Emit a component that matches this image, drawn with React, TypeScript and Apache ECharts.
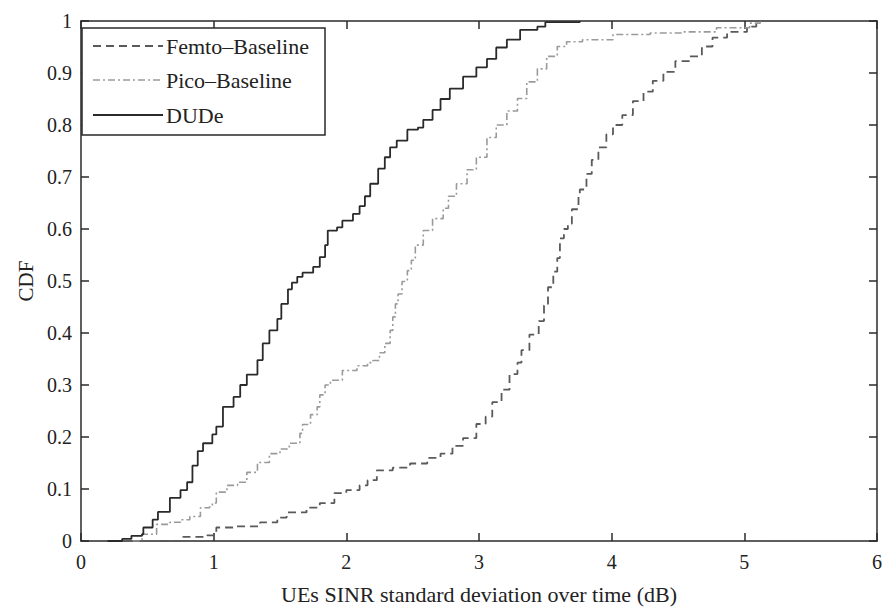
import React, { useEffect, useRef } from "react";
import * as echarts from "echarts";

const seriesNames = ["Femto–Baseline", "Pico–Baseline", "DUDe"];

const femtoData: [number, number][] = [
  [0.6, 0], [0.77, 0.008], [0.95, 0.011], [1.02, 0.026], [1.15, 0.028], [1.35, 0.036],
  [1.48, 0.045], [1.55, 0.055], [1.7, 0.064], [1.8, 0.073], [1.91, 0.092], [2.0, 0.098],
  [2.1, 0.107], [2.16, 0.117], [2.23, 0.136], [2.35, 0.141], [2.48, 0.149], [2.61, 0.16],
  [2.71, 0.168], [2.8, 0.183], [2.88, 0.198], [2.98, 0.225], [3.05, 0.239], [3.1, 0.267],
  [3.17, 0.291], [3.23, 0.321], [3.29, 0.343], [3.32, 0.367], [3.38, 0.397], [3.45, 0.423],
  [3.49, 0.453], [3.52, 0.488], [3.56, 0.518], [3.59, 0.544], [3.61, 0.582], [3.64, 0.6],
  [3.67, 0.61], [3.7, 0.638], [3.75, 0.663], [3.76, 0.676], [3.81, 0.706], [3.85, 0.733],
  [3.9, 0.757], [3.96, 0.782], [4.01, 0.8], [4.08, 0.819], [4.16, 0.846], [4.24, 0.864],
  [4.31, 0.885], [4.39, 0.902], [4.48, 0.923], [4.59, 0.932], [4.68, 0.951], [4.76, 0.968],
  [4.87, 0.979], [5.02, 0.989], [5.09, 1.0],
];

const picoData: [number, number][] = [
  [0.39, 0], [0.46, 0.013], [0.57, 0.032], [0.67, 0.036], [0.75, 0.041], [0.82, 0.047],
  [0.9, 0.064], [0.97, 0.066], [0.99, 0.073], [1.02, 0.094], [1.1, 0.107], [1.18, 0.113],
  [1.25, 0.132], [1.33, 0.151], [1.42, 0.168], [1.5, 0.177], [1.57, 0.188], [1.65, 0.207],
  [1.67, 0.224], [1.73, 0.243], [1.78, 0.258], [1.8, 0.281], [1.84, 0.3], [1.88, 0.309],
  [1.97, 0.328], [2.08, 0.337], [2.16, 0.343], [2.2, 0.347], [2.25, 0.362], [2.29, 0.38],
  [2.33, 0.405], [2.35, 0.431], [2.37, 0.456], [2.39, 0.475], [2.42, 0.499], [2.46, 0.52],
  [2.49, 0.54], [2.52, 0.569], [2.58, 0.597], [2.65, 0.62], [2.73, 0.64], [2.77, 0.663],
  [2.83, 0.687], [2.91, 0.714], [2.98, 0.738], [3.06, 0.776], [3.13, 0.8], [3.21, 0.827],
  [3.29, 0.851], [3.36, 0.883], [3.44, 0.908], [3.51, 0.932], [3.59, 0.951], [3.66, 0.96],
  [3.78, 0.964], [4.01, 0.974], [4.29, 0.977], [4.54, 0.979], [4.79, 0.987], [5.04, 0.996],
  [5.12, 1.0],
];

const dudeData: [number, number][] = [
  [0.2, 0], [0.31, 0.004], [0.38, 0.01], [0.46, 0.013], [0.47, 0.026], [0.54, 0.041],
  [0.58, 0.056], [0.67, 0.083], [0.75, 0.098], [0.8, 0.113], [0.84, 0.145], [0.88, 0.173],
  [0.92, 0.188], [0.99, 0.205], [1.02, 0.22], [1.07, 0.258], [1.15, 0.277], [1.2, 0.3],
  [1.25, 0.32], [1.33, 0.348], [1.37, 0.38], [1.42, 0.405], [1.48, 0.427], [1.51, 0.456],
  [1.56, 0.484], [1.59, 0.497], [1.63, 0.508], [1.67, 0.516], [1.75, 0.527], [1.8, 0.546],
  [1.84, 0.569], [1.86, 0.597], [1.93, 0.603], [1.97, 0.616], [2.05, 0.629], [2.1, 0.644],
  [2.14, 0.663], [2.18, 0.687], [2.24, 0.716], [2.29, 0.738], [2.33, 0.757], [2.38, 0.77],
  [2.46, 0.791], [2.54, 0.795], [2.58, 0.81], [2.65, 0.829], [2.71, 0.85], [2.78, 0.87],
  [2.88, 0.893], [2.98, 0.911], [3.06, 0.927], [3.13, 0.949], [3.21, 0.964], [3.31, 0.983],
  [3.44, 0.989], [3.5, 0.998], [3.76, 1.0],
];

const xTicks = [0, 1, 2, 3, 4, 5, 6];
const xName = "UEs SINR standard deviation over time (dB)";
const yName = "CDF";

const FONT = "'Liberation Serif', 'DejaVu Serif', serif";
const AXIS_COLOR = "#2a2a2a";
const TEXT_COLOR = "#222";

const lineColors = ["#5a5a5a", "#9a9a9a", "#2a2a2a"];
const lineDashes: (number[] | null)[] = [[8, 5], [7, 3, 2, 3], null];
const lineWidths = [1.8, 1.6, 1.8];

export default function App() {
  const ref = useRef<HTMLDivElement>(null);
  useEffect(() => {
    if (!ref.current) return;
    const chart = echarts.init(ref.current, undefined, { renderer: "svg" });
    const baseAxis = {
      type: "value" as const,
      axisLine: { show: true, onZero: false, lineStyle: { color: AXIS_COLOR, width: 1.5 } },
      axisTick: { show: true, inside: true, length: 8, lineStyle: { color: AXIS_COLOR, width: 1.5 } },
      splitLine: { show: false },
    };
    const datasets = [femtoData, picoData, dudeData];

    // legend drawn with graphic elements (box + line samples + labels)
    const legendRowsY = [46, 80, 115];
    const legendGraphics: any[] = [
      {
        type: "rect",
        shape: { x: 82, y: 28, width: 243, height: 107 },
        style: { fill: "#fff", stroke: AXIS_COLOR, lineWidth: 1.5 },
        z: 10,
      },
    ];
    seriesNames.forEach((name, i) => {
      legendGraphics.push({
        type: "line",
        shape: { x1: 93, y1: legendRowsY[i], x2: 163, y2: legendRowsY[i] },
        style: {
          stroke: lineColors[i],
          lineWidth: lineWidths[i],
          lineDash: lineDashes[i] || undefined,
        },
        z: 11,
      });
      legendGraphics.push({
        type: "text",
        x: 166,
        y: legendRowsY[i],
        style: {
          text: name,
          fontFamily: FONT,
          fontSize: 22,
          fill: TEXT_COLOR,
          verticalAlign: "middle",
          align: "left",
        },
        z: 11,
      });
    });

    chart.setOption({
      animation: false,
      backgroundColor: "#fff",
      grid: { left: 81, right: 9, top: 21, bottom: 58, containLabel: false },
      xAxis: [
        {
          ...baseAxis,
          position: "bottom",
          min: xTicks[0],
          max: xTicks[xTicks.length - 1],
          interval: 1,
          name: xName,
          nameLocation: "middle",
          nameGap: 42,
          nameTextStyle: { fontFamily: FONT, fontSize: 22, color: TEXT_COLOR },
          axisLabel: { fontFamily: FONT, fontSize: 20, color: TEXT_COLOR, margin: 11 },
        },
        {
          ...baseAxis,
          position: "top",
          min: xTicks[0],
          max: xTicks[xTicks.length - 1],
          interval: 1,
          axisLabel: { show: false },
        },
      ],
      yAxis: [
        {
          ...baseAxis,
          position: "left",
          min: 0,
          max: 1,
          interval: 0.1,
          name: yName,
          nameLocation: "middle",
          nameGap: 45,
          nameRotate: 90,
          nameTextStyle: { fontFamily: FONT, fontSize: 21, color: TEXT_COLOR },
          axisLabel: { fontFamily: FONT, fontSize: 20, color: TEXT_COLOR, margin: 9 },
        },
        {
          ...baseAxis,
          position: "right",
          min: 0,
          max: 1,
          interval: 0.1,
          axisLabel: { show: false },
        },
      ],
      graphic: legendGraphics,
      series: seriesNames.map((name, i) => ({
        name,
        type: "line",
        data: datasets[i],
        step: "end",
        symbol: "none",
        lineStyle: {
          color: lineColors[i],
          width: lineWidths[i],
          type: lineDashes[i] || "solid",
        },
        itemStyle: { color: lineColors[i] },
        z: 3,
      })),
    });
    return () => chart.dispose();
  }, []);
  return (
    <div
      ref={ref}
      style={{ position: "fixed", left: 0, top: 0, width: 886, height: 610, background: "#fff" }}
    />
  );
}
